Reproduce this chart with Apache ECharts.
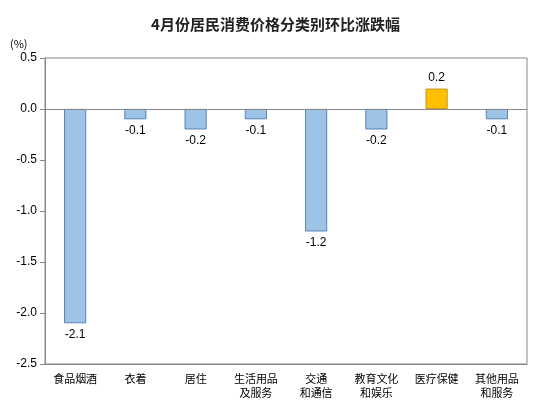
<!DOCTYPE html><html><head><meta charset="utf-8"><script src="https://cdn.jsdelivr.net/npm/echarts@6/dist/echarts.min.js"></script></head><body style="margin:0"><div id="c" style="width:551px;height:413px"></div><script>
const categories=['食品烟酒','衣着','居住','生活用品\n及服务','交通\n和通信','教育文化\n和娱乐','医疗保健','其他用品\n和服务'];
const values=[-2.1,-0.1,-0.2,-0.1,-1.2,-0.2,0.2,-0.1];
const yTicks=[0.5,0.0,-0.5,-1.0,-1.5,-2.0,-2.5];
const f='"Noto Sans CJK SC", sans-serif';
const ch=echarts.init(document.getElementById('c'));
ch.setOption({
title:{text:'4月份居民消费价格分类别环比涨跌幅',left:'center',top:12,textStyle:{fontSize:15,fontWeight:'bold',color:'#222',fontFamily:f}},
graphic:[{type:'text',left:10,top:38,style:{text:'(%)',fontSize:11,fill:'#000',fontFamily:f}}],
grid:{left:45,right:24,top:58,bottom:49,show:true,borderColor:'#888',borderWidth:1},
xAxis:{type:'category',data:categories,position:'bottom',axisLine:{onZero:false,lineStyle:{color:'#888'}},axisTick:{show:false},axisLabel:{interval:0,fontSize:11,color:'#000',fontFamily:f,lineHeight:14}},
yAxis:{type:'value',min:-2.5,max:0.5,interval:0.5,splitLine:{show:false},axisLine:{show:true,lineStyle:{color:'#888'}},axisTick:{show:true,lineStyle:{color:'#888'}},axisLabel:{fontSize:12,color:'#000',formatter:v=>v.toFixed(1)}},
series:[{type:'bar',barWidth:22,data:values.map(v=>({value:v,itemStyle:{color:v>0?'#FFC000':'#9DC3E6',borderColor:v>0?'#B8860B':'#3B6EA5',borderWidth:0.8}})),
label:{show:true,fontSize:12,color:'#000',formatter:p=>p.value.toFixed(1),position:'outside'},
markLine:{silent:true,symbol:'none',label:{show:false},lineStyle:{color:'#888',type:'solid',width:1},data:[{yAxis:0}]}}]
});
</script></body></html>
